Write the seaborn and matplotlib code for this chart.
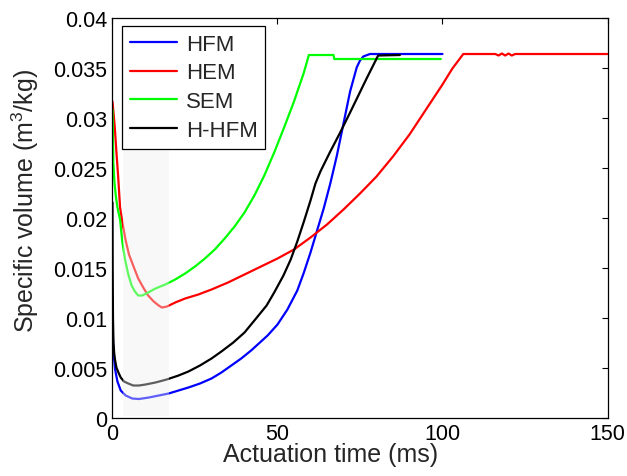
import matplotlib
matplotlib.use("Agg")
import matplotlib.pyplot as plt
import seaborn as sns
import pandas as pd

# ---- data ----
hfm_t = [0, 0.15, 0.4, 0.8, 1.5, 2.5, 4, 6, 8, 11, 14, 17, 20, 23, 26.5, 30, 33, 36, 39, 42, 45,
         47, 50, 53, 56, 58, 60, 62, 64, 66, 68, 70, 72, 74, 75, 76, 78, 100]
hfm_v = [0.0095, 0.0078, 0.0062, 0.0048, 0.0036, 0.0027, 0.0022, 0.0019, 0.00185, 0.0020, 0.0022,
         0.0024, 0.0027, 0.0030, 0.0034, 0.0039, 0.0045, 0.0052, 0.0059, 0.0067, 0.0076,
         0.0082, 0.0093, 0.0108, 0.0127, 0.0145, 0.0165, 0.0187, 0.0209, 0.0234, 0.0262, 0.0294,
         0.0326, 0.0350, 0.0357, 0.0361, 0.03635, 0.03635]

hem_t = [0, 0.3, 0.7, 1.2, 1.7, 2.3, 3, 4, 5, 6.5, 7.8, 9.5, 10.8, 12.5, 14, 15, 16.5, 19, 22, 26,
         30, 35, 40, 45, 50, 55, 60, 65, 70, 75, 80, 85, 90, 95, 100, 103, 106.3,
         116, 117, 118, 119, 120, 121, 122, 150]
hem_v = [0.0316, 0.0305, 0.0290, 0.0265, 0.0242, 0.0210, 0.0195, 0.0177, 0.0163, 0.0150, 0.0139,
         0.0129, 0.0122, 0.0116, 0.0112, 0.0110, 0.0111, 0.0115, 0.0119, 0.0123, 0.0128, 0.0135,
         0.0143, 0.0151, 0.0159, 0.0168, 0.0180, 0.0193, 0.0208, 0.0224, 0.0241, 0.0261, 0.0283,
         0.0308, 0.0333, 0.0349, 0.03635,
         0.03635, 0.0362, 0.0364, 0.0362, 0.0364, 0.0362, 0.03635, 0.03635]

sem_t = [0, 0.1, 0.25, 0.6, 1, 1.5, 2.3, 3, 3.8, 4.8, 5.8, 6.8, 7.8, 9, 10.8, 13, 16, 19, 22,
         25, 28, 31, 34, 37, 40, 43, 46, 49, 52, 55, 58, 59.5, 67, 67.2, 99.5]
sem_v = [0.0308, 0.0290, 0.0255, 0.0235, 0.0222, 0.0210, 0.0198, 0.0175, 0.0158, 0.0143, 0.0132,
         0.0126, 0.0122, 0.0122, 0.0125, 0.0129, 0.0133, 0.0138, 0.0144, 0.0151, 0.0159, 0.0168,
         0.0179, 0.0191, 0.0205, 0.0222, 0.0242, 0.0265, 0.0290, 0.0316, 0.0345, 0.03625,
         0.03625, 0.03585, 0.03585]

hhfm_t = [0, 0.05, 0.15, 0.3, 0.5, 0.75, 1.2, 1.8, 2.5, 3.5, 4.8, 6.3, 8, 10, 13, 16.4, 20, 23,
          26.5, 30, 33, 36.6, 40, 43, 46.7, 49, 51.8, 54, 56, 58, 60, 61.5, 63, 66, 69,
          72, 77, 80.5, 87.1]
hhfm_v = [0.0215, 0.0150, 0.0100, 0.0075, 0.0065, 0.0058, 0.0050, 0.0045, 0.0040, 0.0036, 0.0034,
          0.0032, 0.0032, 0.0033, 0.0035, 0.0038, 0.0042, 0.0046, 0.0052, 0.0059, 0.0066, 0.0075,
          0.0085, 0.0097, 0.0112, 0.0125, 0.0142, 0.0158, 0.0176, 0.0196, 0.0217, 0.0234, 0.0246,
          0.0266, 0.0285, 0.0305, 0.0339, 0.0362, 0.03625]

series_names = ["HFM", "HEM", "SEM", "H-HFM"]
series_colors = ["#0000ff", "#ff0000", "#00ff00", "#000000"]

x_ticks = [0, 50, 100, 150]
y_ticks = [0, 0.005, 0.01, 0.015, 0.02, 0.025, 0.03, 0.035, 0.04]
y_tick_labels = ["0", "0.005", "0.01", "0.015", "0.02", "0.025", "0.03", "0.035", "0.04"]

# ---- style ----
sns.set_style("white")
plt.rcParams["font.family"] = ["Liberation Sans", "DejaVu Sans"]
plt.rcParams["mathtext.default"] = "regular"

fig = plt.figure(figsize=(6.27, 4.77), dpi=100)
ax = fig.add_axes([0.1794, 0.1226, 0.7895, 0.8386])

data = [(hfm_t, hfm_v), (hem_t, hem_v), (sem_t, sem_v), (hhfm_t, hhfm_v)]
for (t, v), name, col in zip(data, series_names, series_colors):
    df = pd.DataFrame({"t": t, "v": v})
    sns.lineplot(data=df, x="t", y="v", color=col, lw=1.6, label=name, ax=ax,
                 estimator=None, sort=False)

# faint overlay rectangle
ax.axvspan(3.1, 17.2, ymin=0.005, ymax=0.75, color="#eeeeee", alpha=0.4, lw=0, zorder=3)

ax.set_xlim(0, 150)
ax.set_ylim(0, 0.04)
ax.set_xticks(x_ticks)
ax.set_xticklabels([str(v) for v in x_ticks])
ax.set_yticks(y_ticks)
ax.set_yticklabels(y_tick_labels)
ax.tick_params(direction="in", length=4, width=0.8, top=True, right=True,
               labelsize=15.5, colors="black", pad=4)
for s in ax.spines.values():
    s.set_visible(True)
    s.set_color("black")
    s.set_linewidth(0.9)

ax.set_xlabel("Actuation time (ms)", fontsize=18)
ax.set_ylabel("Specific volume (m$^3$/kg)", fontsize=18)
ax.xaxis.set_label_coords(0.44, -0.062)
ax.yaxis.set_label_coords(-0.145, 0.543)

leg = ax.legend(loc="upper left", bbox_to_anchor=(0.02, 0.979), fontsize=16,
                frameon=True, fancybox=False, handlelength=2.1, handletextpad=0.4,
                labelspacing=0.35, borderpad=0.35, borderaxespad=0.0)
leg.get_frame().set_edgecolor("black")
leg.get_frame().set_linewidth(0.9)
leg.get_frame().set_alpha(1)
leg.set_zorder(10)

fig.savefig("out.png", dpi=100)
